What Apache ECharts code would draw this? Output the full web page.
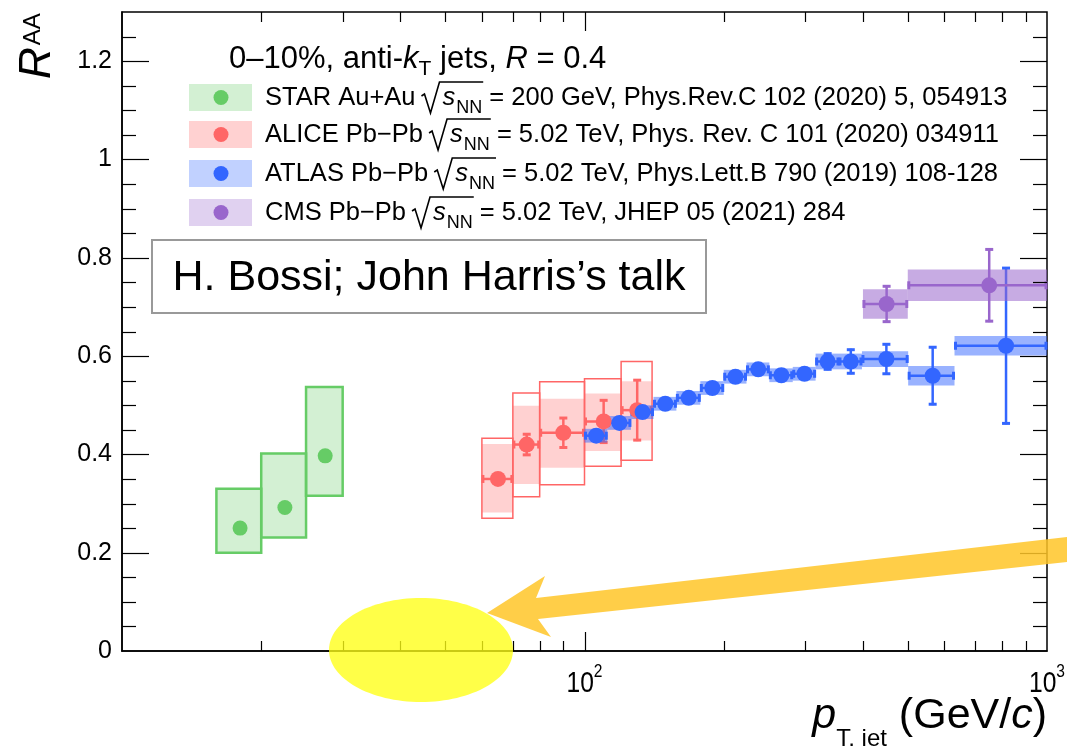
<!DOCTYPE html>
<html><head><meta charset="utf-8">
<script src="https://cdn.jsdelivr.net/npm/echarts/dist/echarts.min.js"></script>
<style>html,body{margin:0;padding:0;background:#fff}#c{width:1067px;height:746px}</style>
</head><body><div id="c"></div>
<script>
// ---------------- data ----------------
const starX = [18, 22.5, 27.5];
const starXlo = [16, 20, 25];
const starXhi = [20, 25, 30];
const starY = [0.250, 0.292, 0.397];
const starSysLo = [0.200, 0.231, 0.316];
const starSysHi = [0.330, 0.402, 0.537];

const aliceX = [65, 75, 90, 110, 130];
const aliceXlo = [60, 70, 80, 100, 120];
const aliceXhi = [70, 80, 100, 120, 140];
const aliceY = [0.350, 0.420, 0.444, 0.467, 0.490];
const aliceStat = [0.010, 0.023, 0.032, 0.045, 0.063];
const aliceShapeLo = [0.270, 0.314, 0.338, 0.376, 0.388];
const aliceShapeHi = [0.433, 0.525, 0.548, 0.554, 0.589];
const aliceCorrLo = [0.282, 0.340, 0.373, 0.407, 0.428];
const aliceCorrHi = [0.421, 0.499, 0.513, 0.524, 0.549];

const atlasX = [106, 119, 133.5, 149.5, 168, 189, 212, 237.5, 266.5, 299, 335.5, 376.5, 449.5, 566, 815.5];
const atlasXlo = [100, 112, 126, 141, 158, 178, 200, 224, 251, 282, 316, 355, 398, 501, 631];
const atlasXhi = [112, 126, 141, 158, 178, 200, 224, 251, 282, 316, 355, 398, 501, 631, 1000];
const atlasY = [0.438, 0.464, 0.486, 0.503, 0.515, 0.535, 0.558, 0.573, 0.561, 0.564, 0.589, 0.589, 0.594, 0.560, 0.621];
const atlasStat = [0.006, 0.006, 0.006, 0.006, 0.006, 0.006, 0.006, 0.006, 0.006, 0.008, 0.018, 0.026, 0.032, 0.060, 0.160];
const atlasSys = [0.014, 0.014, 0.014, 0.014, 0.014, 0.014, 0.014, 0.014, 0.014, 0.014, 0.016, 0.016, 0.016, 0.020, 0.020];

const cmsX = [450, 750];
const cmsXlo = [400, 500];
const cmsXhi = [500, 1000];
const cmsY = [0.706, 0.744];
const cmsStat = [0.038, 0.075];
const cmsSys = [0.030, 0.032];

const yTickLabels = [0, 0.2, 0.4, 0.6, 0.8, 1, 1.2];
const xTickLabels = [[100, '10', '2'], [1000, '10', '3']];
const xMinorTicks = [20, 30, 40, 50, 60, 70, 80, 90, 200, 300, 400, 500, 600, 700, 800, 900];
const xMajorTicks = [100];

const legendHeader = ['0–10%, anti-', 'k', 'T', ' jets, ', 'R', ' = 0.4'];
const legendNames = ['STAR Au+Au', 'ALICE Pb−Pb', 'ATLAS Pb−Pb', 'CMS Pb−Pb'];
const legendRefs = [' = 200 GeV, Phys.Rev.C 102 (2020) 5, 054913',
  ' = 5.02 TeV, Phys. Rev. C 101 (2020) 034911',
  ' = 5.02 TeV, Phys.Lett.B 790 (2019) 108-128',
  ' = 5.02 TeV, JHEP 05 (2021) 284'];

// ---------------- colours ----------------
const C_STAR = '#66cc66', C_ALICE = '#ff6666', C_ATLAS = '#3366ff', C_CMS = '#9966cc';
const legendFill = ['rgba(102,204,102,0.29)', 'rgba(255,102,102,0.30)', 'rgba(51,102,255,0.30)', 'rgba(153,102,204,0.30)'];
const legendColor = [C_STAR, C_ALICE, C_ATLAS, C_CMS];
const FAM = '"Liberation Sans", Arial, Helvetica, sans-serif';

// ---------------- helpers ----------------
const mctx = document.createElement('canvas').getContext('2d');
function fontStr(size, italic) { return (italic ? 'italic ' : '') + size + 'px ' + FAM; }
function tw(t, size, italic) { mctx.font = fontStr(size, italic); return mctx.measureText(t).width; }
function midOff(size, italic) {
  mctx.font = fontStr(size, italic); mctx.textBaseline = 'middle';
  const m = mctx.measureText('H'); mctx.textBaseline = 'alphabetic';
  return (m.actualBoundingBoxDescent !== undefined) ? m.actualBoundingBoxDescent : 0.36 * size;
}
function piece(text, x, baseline, size, italic, extra) {
  return Object.assign({
    type: 'text', x: x, y: baseline - midOff(size, italic), z: 50, silent: true,
    style: { text: text, font: fontStr(size, italic), fill: '#000', align: 'left', verticalAlign: 'middle' }
  }, extra || {});
}

function boxSeries(name, xlo, xhi, lo, hi, style) {
  return {
    type: 'custom', name: name, silent: true,
    data: xlo.map((v, i) => [v, xhi[i], lo[i], hi[i]]),
    encode: { x: [0, 1], y: [2, 3] },
    renderItem: function (params, api) {
      const p1 = api.coord([api.value(0), api.value(3)]);
      const p2 = api.coord([api.value(1), api.value(2)]);
      return { type: 'rect', shape: { x: p1[0], y: p1[1], width: p2[0] - p1[0], height: p2[1] - p1[1] }, style: style };
    }
  };
}
function symBoxSeries(name, xlo, xhi, y, e, style) {
  return boxSeries(name, xlo, xhi, y.map((v, i) => v - e[i]), y.map((v, i) => v + e[i]), style);
}
function errSeries(name, x, xlo, xhi, y, ey, color, lw) {
  return {
    type: 'custom', name: name, silent: true,
    data: x.map((v, i) => [v, y[i], xlo[i], xhi[i], y[i] - ey[i], y[i] + ey[i]]),
    encode: { x: [0, 2, 3], y: [1, 4, 5] },
    renderItem: function (params, api) {
      const yv = api.value(1), xv = api.value(0);
      const l = api.coord([api.value(2), yv]), r = api.coord([api.value(3), yv]);
      const t = api.coord([xv, api.value(5)]), b = api.coord([xv, api.value(4)]);
      const st = { stroke: color, lineWidth: lw };
      const cst = { stroke: color, lineWidth: 3 };
      const ln = (x1, y1, x2, y2, s) => ({ type: 'line', shape: { x1, y1, x2, y2 }, style: s });
      return {
        type: 'group', children: [
          ln(l[0], l[1], r[0], r[1], st),
          ln(t[0], t[1], b[0], b[1], st),
          ln(l[0] + 1, l[1] - 4, l[0] + 1, l[1] + 4, cst),
          ln(r[0] - 1, r[1] - 4, r[0] - 1, r[1] + 4, cst),
          ln(t[0] - 4, t[1] + 1, t[0] + 4, t[1] + 1, cst),
          ln(b[0] - 4, b[1] - 1, b[0] + 4, b[1] - 1, cst)
        ]
      };
    }
  };
}
function ptSeries(name, x, y, color, size) {
  return {
    type: 'scatter', name: name, silent: true, symbol: 'circle', symbolSize: size,
    itemStyle: { color: color, opacity: 1 },
    data: x.map((v, i) => [v, y[i]])
  };
}

// ticks (inward, mirrored on top/right like ROOT)
const tickData = [];
for (let k = 1; k < 26; k++) tickData.push([10, +(k * 0.05).toFixed(2), k % 4 === 0 ? 1 : 0, 1]);
xMinorTicks.forEach(v => tickData.push([v, 0.65, 0, 0]));
xMajorTicks.forEach(v => tickData.push([v, 0.65, 1, 0]));
const tickSeries = {
  type: 'custom', name: 'ticks', silent: true, z: 5,
  data: tickData, encode: { x: 0, y: 1 },
  renderItem: function (params, api) {
    const cs = params.coordSys;
    const st = { stroke: '#000', lineWidth: 1.2 };
    const major = api.value(2) === 1;
    if (api.value(3) === 1) {
      const py = Math.round(api.coord([10, api.value(1)])[1]) + 0.5;
      const len = major ? 27 : 14;
      return { type: 'group', children: [
        { type: 'line', shape: { x1: cs.x, y1: py, x2: cs.x + len, y2: py }, style: st },
        { type: 'line', shape: { x1: cs.x + cs.width, y1: py, x2: cs.x + cs.width - len, y2: py }, style: st }
      ] };
    } else {
      const px = Math.round(api.coord([api.value(0), 0.65])[0]) + 0.5;
      const len = major ? 19 : 10;
      return { type: 'group', children: [
        { type: 'line', shape: { x1: px, y1: cs.y + cs.height, x2: px, y2: cs.y + cs.height - len }, style: st },
        { type: 'line', shape: { x1: px, y1: cs.y, x2: px, y2: cs.y + len }, style: st }
      ] };
    }
  }
};

const chart = echarts.init(document.getElementById('c'), null, { renderer: 'canvas' });
const option = {
  animation: false,
  backgroundColor: '#fff',
  grid: { left: 122, right: 20, top: 12, bottom: 95, show: true, borderColor: '#000', borderWidth: 1.5, backgroundColor: 'transparent', outerBoundsMode: 'none', containLabel: false },
  xAxis: {
    type: 'log', logBase: 10, min: 10, max: 1000,
    axisLine: { show: true, onZero: false, lineStyle: { color: '#000', width: 1.5 } },
    axisTick: { show: false }, splitLine: { show: false }, minorTick: { show: false },
    axisLabel: { show: false }
  },
  yAxis: {
    type: 'value', min: 0, max: 1.3, interval: 0.2,
    axisLine: { show: true, lineStyle: { color: '#000', width: 1.5 } },
    axisTick: { show: false }, splitLine: { show: false },
    axisLabel: {
      show: true, color: '#000', fontSize: 25, fontFamily: FAM, margin: 10,
      formatter: function (v) {
        const hit = yTickLabels.find(t => Math.abs(t - v) < 1e-6);
        return hit === undefined ? '' : String(hit);
      }
    }
  },
  series: [
    tickSeries,
    boxSeries('STAR sys', starXlo, starXhi, starSysLo, starSysHi, { fill: 'rgba(102,204,102,0.29)', stroke: C_STAR, lineWidth: 2.5 }),
    ptSeries('STAR', starX, starY, C_STAR, 15),
    boxSeries('ALICE corr', aliceXlo, aliceXhi, aliceCorrLo, aliceCorrHi, { fill: 'rgba(255,102,102,0.30)', stroke: null }),
    boxSeries('ALICE shape', aliceXlo, aliceXhi, aliceShapeLo, aliceShapeHi, { fill: null, stroke: C_ALICE, lineWidth: 1.5 }),
    errSeries('ALICE stat', aliceX, aliceXlo, aliceXhi, aliceY, aliceStat, C_ALICE, 2.5),
    ptSeries('ALICE', aliceX, aliceY, C_ALICE, 16),
    symBoxSeries('ATLAS sys', atlasXlo, atlasXhi, atlasY, atlasSys, { fill: 'rgba(51,102,255,0.5)', stroke: null }),
    errSeries('ATLAS stat', atlasX, atlasXlo, atlasXhi, atlasY, atlasStat, C_ATLAS, 2.5),
    ptSeries('ATLAS', atlasX, atlasY, C_ATLAS, 16),
    symBoxSeries('CMS sys', cmsXlo, cmsXhi, cmsY, cmsSys, { fill: 'rgba(153,102,204,0.55)', stroke: null }),
    errSeries('CMS stat', cmsX, cmsXlo, cmsXhi, cmsY, cmsStat, C_CMS, 2.5),
    ptSeries('CMS', cmsX, cmsY, C_CMS, 16)
  ]
};
chart.setOption(option);

// ---------------- text / annotations (graphic) ----------------
const g = [];
// header
(function () {
  let x = 229; const b = 68, s = 31;
  g.push(piece(legendHeader[0], x, b, s)); x += tw(legendHeader[0], s);
  g.push(piece(legendHeader[1], x, b, s, true)); x += tw(legendHeader[1], s, true);
  g.push(piece(legendHeader[2], x, b + 7, 21)); x += tw(legendHeader[2], 21);
  g.push(piece(legendHeader[3], x, b, s)); x += tw(legendHeader[3], s);
  g.push(piece(legendHeader[4], x, b, s, true)); x += tw(legendHeader[4], s, true);
  g.push(piece(legendHeader[5], x, b, s));
})();
// legend rows
const swatchCY = [97.5, 134.5, 173.5, 212.5];
legendNames.forEach((nm, i) => {
  const cy = swatchCY[i];
  g.push({ type: 'rect', z: 40, silent: true, shape: { x: 189, y: cy - 13.5, width: 63, height: 27 }, style: { fill: legendFill[i] } });
  g.push({ type: 'circle', z: 41, silent: true, shape: { cx: 221, cy: cy, r: 7.5 }, style: { fill: legendColor[i] } });
  const b = cy + 7.5, s = 25.5;
  let x = 265;
  g.push(piece(nm, x, b, s)); x += tw(nm, s) + 5;
  const xs = x; x += 22;
  g.push(piece('s', x, b, s, true)); x += tw('s', s, true) + 1;
  g.push(piece('NN', x, b + 8, 18)); x += tw('NN', 18);
  const xe = x + 1;
  g.push({ type: 'polyline', z: 50, silent: true,
    shape: { points: [[xs + 1, b - 9], [xs + 4, b - 11], [xs + 10, b + 8], [xs + 19, b - 23], [xe, b - 23]] },
    style: { stroke: '#000', lineWidth: 1.6, fill: null } });
  g.push(piece(legendRefs[i], x, b, s));
});
// annotation box
g.push({ type: 'rect', z: 40, silent: true, shape: { x: 152, y: 240, width: 554, height: 73 }, style: { fill: '#fff', stroke: '#999', lineWidth: 2 } });
g.push({ type: 'text', z: 50, silent: true, x: 429, y: 278, style: { text: 'H. Bossi; John Harris’s talk', font: fontStr(43), fill: '#000', align: 'center', verticalAlign: 'middle' } });

// x tick labels (condensed like the original)
xTickLabels.forEach(t => {
  const px = chart.convertToPixel({ xAxisIndex: 0 }, t[0]);
  const sx = 0.82;
  const wb = tw(t[1], 30) * sx, we = tw(t[2], 19) * sx;
  const x0 = px - (wb + we) / 2;
  g.push(piece(t[1], x0, 692, 30, false, { scaleX: sx }));
  g.push(piece(t[2], x0 + wb, 677, 19, false, { scaleX: sx }));
});

// x axis title
(function () {
  const b = 728, s = 43, ss = 24;
  const parts = [['p', s, true, 0], ['T, jet', ss, false, 18], [' (GeV/', s, false, 0], ['c', s, true, 0], [')', s, false, 0]];
  let total = 0; parts.forEach(p => total += tw(p[0], p[1], p[2]));
  let x = 1047 - total;
  parts.forEach(p => { g.push(piece(p[0], x, b + p[3], p[1], p[2])); x += tw(p[0], p[1], p[2]); });
})();

// y axis title (rotated)
(function () {
  const rot = Math.PI / 2;
  const sR = 44, sA = 24;
  g.push({ type: 'text', z: 50, silent: true, x: 50 - midOff(sR, true), y: 79, rotation: rot,
    style: { text: 'R', font: fontStr(sR, true), fill: '#000', align: 'left', verticalAlign: 'middle' } });
  const yA = 79 - tw('R', sR, true) - 2;
  g.push({ type: 'text', z: 50, silent: true, x: 40 - midOff(sA), y: yA, rotation: rot,
    style: { text: 'AA', font: fontStr(sA), fill: '#000', align: 'left', verticalAlign: 'middle' } });
})();

// highlight ellipse and arrow
g.push({ type: 'ellipse', z: 90, silent: true, shape: { cx: 421, cy: 650, rx: 92, ry: 52 }, style: { fill: 'rgba(255,255,20,0.78)' } });
g.push({ type: 'polygon', z: 91, silent: true,
  shape: { points: [[487, 613], [545, 576], [536, 598], [1067, 537], [1067, 562], [538, 619], [551, 637]] },
  style: { fill: 'rgba(255,198,40,0.85)' } });

chart.setOption({ graphic: { elements: g } });
</script>
</body></html>
